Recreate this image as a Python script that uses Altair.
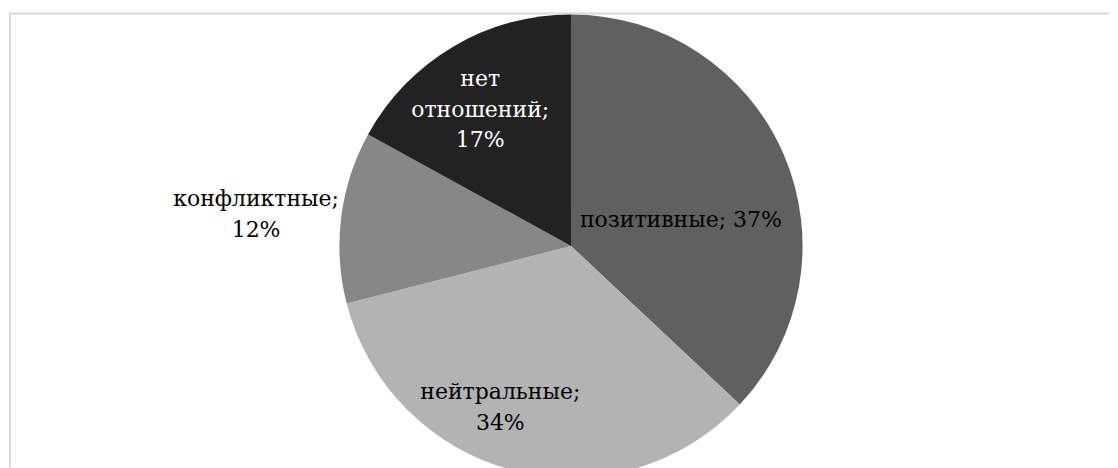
import altair as alt
import pandas as pd

categories = ["позитивные", "нейтральные", "конфликтные", "нет отношений"]
values = [37, 34, 12, 17]
labels = ["позитивные; 37%", "нейтральные;\n34%", "конфликтные;\n12%", "нет\nотношений;\n17%"]
colors = ["#606060", "#b3b3b3", "#878787", "#222222"]

df = pd.DataFrame({"cat": categories, "value": values, "label": labels, "idx": list(range(len(categories)))})

W, H = 1102, 460
CX, CY, R = 563, 238, 232
FONT = "DejaVu Serif"
FS = 22

theta_scale = alt.Scale(domain=[0, 100])

frame_df = pd.DataFrame({"a": [0]})
top_rule = alt.Chart(frame_df).mark_rule(color="#d9d9d9", strokeWidth=2).encode(
    x=alt.value(0), x2=alt.value(W), y=alt.value(5))
left_rule = alt.Chart(frame_df).mark_rule(color="#d9d9d9", strokeWidth=2).encode(
    x=alt.value(1), y=alt.value(5), y2=alt.value(H))

pie = alt.Chart(df).mark_arc(radius=R).encode(
    theta=alt.Theta("value:Q", stack=True, scale=theta_scale),
    order=alt.Order("idx:Q"),
    color=alt.Color("cat:N", scale=alt.Scale(domain=categories, range=colors), legend=None),
    x=alt.value(CX), y=alt.value(CY),
)

base_text = alt.Chart(df).transform_window(
    cum="sum(value)", sort=[alt.SortField("idx")], frame=[None, 0]
).transform_calculate(mid="datum.cum - datum.value / 2")

label_cfg = {
    "позитивные": dict(r=120, dx=0, dy=22, color="#000000"),
    "нейтральные": dict(r=168, dx=-29, dy=-16, color="#000000"),
    "конфликтные": dict(r=318, dx=0, dy=-7, color="#000000"),
    "нет отношений": dict(r=159, dx=-10, dy=-30, color="#ffffff"),
}

text_layers = []
for cat in categories:
    c = label_cfg[cat]
    t = base_text.transform_filter(alt.datum.cat == cat).mark_text(
        font=FONT, fontSize=FS, lineBreak="\n", lineHeight=30.5,
        align="center", baseline="middle", color=c["color"], dx=c["dx"], dy=c["dy"],
    ).encode(
        theta=alt.Theta("mid:Q", stack=False, scale=theta_scale),
        radius=alt.value(c["r"]),
        x=alt.value(CX), y=alt.value(CY),
        text="label:N",
    )
    text_layers.append(t)

chart = alt.layer(top_rule, left_rule, pie, *text_layers).properties(
    width=W, height=H, padding=0
).configure_view(stroke=None)

chart.save("out.html", embed_options={"renderer": "svg", "actions": False})
